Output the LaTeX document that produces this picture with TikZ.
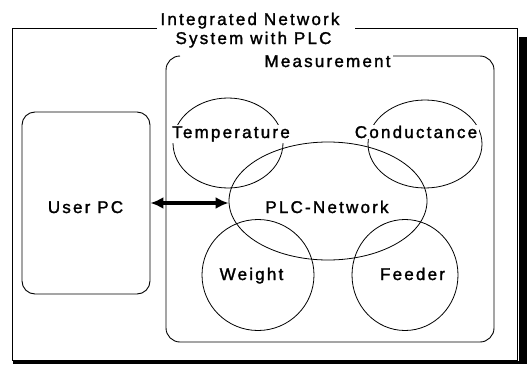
\documentclass[tikz,border=0pt]{standalone}
\usepackage{fontspec}
\setmainfont{Liberation Sans}[LetterSpace=13, FakeBold=1.6]
\usetikzlibrary{shapes.geometric,arrows.meta}

\tikzset{
  frame/.style={line width=0.9pt},
  zone/.style={ellipse, draw, line width=0.8pt, inner sep=0pt},
  txt/.style={anchor=base, inner sep=0pt, font=\fontsize{17}{20}\selectfont},
  cover/.style={txt, fill=white, inner xsep=1.5pt, inner ysep=1pt},
  pcbox/.style={draw, line width=0.9pt, rounded corners=13pt, inner sep=0pt},
  link/.style={line width=3.5pt, {Latex[length=13pt,width=12pt]}-{Latex[length=13pt,width=12pt]}}
}

\begin{document}
\begin{tikzpicture}[x=1pt, y=-1pt]
\useasboundingbox (0,0) rectangle (527,364);

% drop shadow of the outer frame
\fill[black] (519,37) rectangle (527,364);
\fill[black] (13,360.5) rectangle (527,364);

% outer frame, open at the top for the title
\draw[frame] (157,28) -- (12.7,28) -- (12.7,360) -- (517.5,360) -- (517.5,28) -- (355,28);

% measurement frame, open at the top for its caption
\draw[frame, rounded corners=14pt] (180,56) -- (166,56) -- (166,342) -- (494,342) -- (494,56) -- (393,56);

% title lines
\node[txt] (t1) at (250,25) {Integrated Network};
\node[txt] (t2) at (253.5,44) {System with PLC};
\node[txt] (t3) at (327.5,67) {Measurement};

% user PC
\node[pcbox, minimum width=128pt, minimum height=182pt] (userpc) at (86,203) {};
\node[txt] (userpclbl) at (85.5,213) {User PC};

% measurement zones
\node[zone, minimum width=110pt, minimum height=90pt] (temp) at (228,143) {};
\node[zone, minimum width=114pt, minimum height=88pt] (cond) at (425,144) {};
\node[zone, minimum width=198pt, minimum height=118pt] (plc) at (328,201) {};
\node[zone, minimum width=112pt, minimum height=111pt] (weight) at (258,275) {};
\node[zone, minimum width=106pt, minimum height=111pt] (feeder) at (405,275) {};

\node[cover] (templbl) at (231,138) {Temperature};
\node[cover] (condlbl) at (416,138) {Conductance};
\node[txt] (plclbl) at (327,213) {PLC-Network};
\node[txt] (weightlbl) at (251.5,280) {Weight};
\node[txt] (feederlbl) at (412.5,280) {Feeder};

% link between the PC and the network
\draw[link] (userpc.east) -- (userpc.east -| plc.west);
\end{tikzpicture}
\end{document}
